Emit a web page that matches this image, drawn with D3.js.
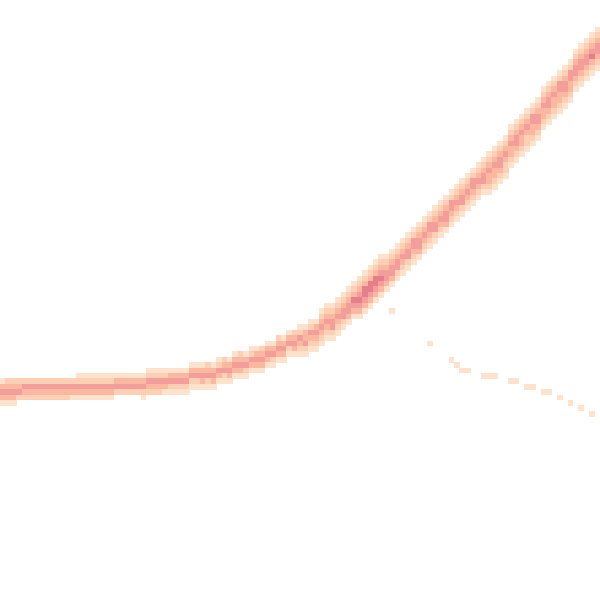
<!DOCTYPE html>
<html>
<head>
<meta charset="utf-8">
<script src="https://cdn.jsdelivr.net/npm/d3@7"></script>
<style>
  html, body { margin: 0; padding: 0; background: #ffffff; }
  svg { display: block; }
</style>
</head>
<body>
<div id="chart"></div>
<script>
// Density grid: 111 x 111 bins. For each column: [top row, density levels going down]
const gridSize = 111;
const columnTops = [
  70,70,70,70,70,70,70,70,70,70,
  70,70,70,70,69,69,69,69,69,69,
  69,69,69,69,69,69,69,68,68,68,
  68,68,68,68,68,67,67,67,67,67,
  66,66,66,65,65,65,64,64,64,63,
  63,62,62,61,61,60,60,59,59,57,
  56,56,55,54,53,52,51,50,49,48,
  47,47,46,45,44,43,42,41,40,39,
  38,37,36,35,34,33,32,31,30,29,
  28,27,26,25,23,22,21,20,19,18,
  16,15,14,13,12,11,9,8,7,6,
  5
];
const columnLevels = [
  "13431","23431","23431","2342","2432","2432","2432","2432","2432","2432",
  "2432","2432","2432","2431","12431","12431","12431","12431","12431","12431",
  "12431","1342","1342","1342","1342","1342","13421","12432","12432","12432",
  "12431","13421","13421","13421","13421","13421","13421","13431","23421","13431",
  "12431","23421","13431","13431","23431","13421","12431","13431","23431","13431",
  "13421","23431","13431","13421","23431","124321","133421","124321","134321","1234321",
  "1234321","1234421","1234321","1234421","1234431","1235431","12345431","12355431","12355431","12355431",
  "12345431","1234431","1234431","1234421","1234321","1234421","1244321","1234431","1234321","1244321",
  "1234421","1234321","1234431","1244321","1234321","1234421","1234321","1244321","1234321","1234421",
  "12343321","12343321","12344321","12343221","12343321","12344321","12343321","12343221","12443321","12344321",
  "12343321","12344321","12343321","12443321","12344321","12443321","12344321","12344321","12344321","12345321",
  "12344321"
];
// Sparse isolated bins: [column, row, level]
const sparseCells = [
  [26,73,1],[72,57,1],[79,63,1],[83,66,1],[84,67,1],[85,68,1],[86,68,1],
  [89,69,1],[90,69,1],[91,69,1],[94,70,1],[95,70,1],[97,71,1],[98,71,1],
  [100,72,1],[101,72,1],[103,73,1],[105,74,1],[107,75,1],[109,76,1]
];
const levelDomain = [1,2,3,4,5];
const levelColors = ["#fee2cb","#fdd0b5","#fbb8a0","#f39e9b","#e67f8c"];

const W = 600, H = 600;
const cells = [];
columnTops.forEach((top, c) => {
  const s = columnLevels[c];
  for (let i = 0; i < s.length; i++) {
    const v = +s[i];
    if (v > 0) cells.push({c: c, r: top + i, v: v});
  }
});
sparseCells.forEach(d => cells.push({c: d[0], r: d[1], v: d[2]}));

const x = d3.scaleBand().domain(d3.range(gridSize)).range([0, W]).padding(0);
const y = d3.scaleBand().domain(d3.range(gridSize)).range([0, H]).padding(0);
const color = d3.scaleOrdinal().domain(levelDomain).range(levelColors);

const svg = d3.select("#chart").append("svg")
  .attr("width", W).attr("height", H)
  .attr("viewBox", [0, 0, W, H]);

svg.append("rect").attr("width", W).attr("height", H).attr("fill", "#ffffff");

svg.append("g")
  .attr("shape-rendering", "crispEdges")
  .selectAll("rect")
  .data(cells)
  .join("rect")
  .attr("x", d => x(d.c))
  .attr("y", d => y(d.r))
  .attr("width", x.bandwidth() + 0.4)
  .attr("height", y.bandwidth() + 0.4)
  .attr("fill", d => color(d.v));
</script>
</body>
</html>
